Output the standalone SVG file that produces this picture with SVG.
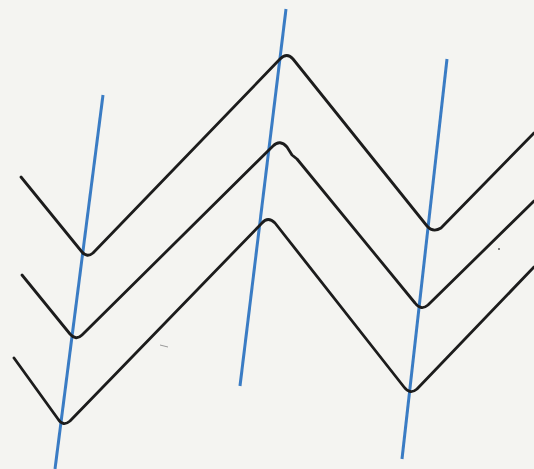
<svg xmlns="http://www.w3.org/2000/svg" width="534" height="469" viewBox="0 0 534 469">
<style>
.zig{fill:none;stroke:#1c1c1c;stroke-width:2.8;stroke-linejoin:round;stroke-linecap:round}
.blue{fill:none;stroke:#3a7cc4;stroke-width:3;stroke-linecap:butt}
</style>
<rect width="534" height="469" fill="#f4f4f1"/>
<g id="blue-lines">
<line class="blue" x1="103" y1="95" x2="55" y2="469"/>
<line class="blue" x1="286" y1="9" x2="240" y2="386"/>
<line class="blue" x1="447" y1="59" x2="402" y2="459"/>
</g>
<g id="zigzags">
<path class="zig" d="M21,177 L82,252 Q87,258 93,253 L280,59 Q287,52 293,59 L427,226 Q433,233 441,228 L534,133"/>
<path class="zig" d="M22,275 L70,334 Q76,341 82,335 L273,146 Q280,139 287,147 L292,155 L297,159 L415,303 Q421,311 428,305 L534,201"/>
<path class="zig" d="M14,358 L58,419 Q63,427 70,421 L262,223 Q268,216 275,223 L404,387 Q410,395 417,389 L534,267"/>
</g>
<path d="M160,345 L168,347" stroke="#9a9a9a" stroke-width="1" fill="none"/>
<circle cx="499" cy="249" r="1" fill="#555"/>
</svg>
